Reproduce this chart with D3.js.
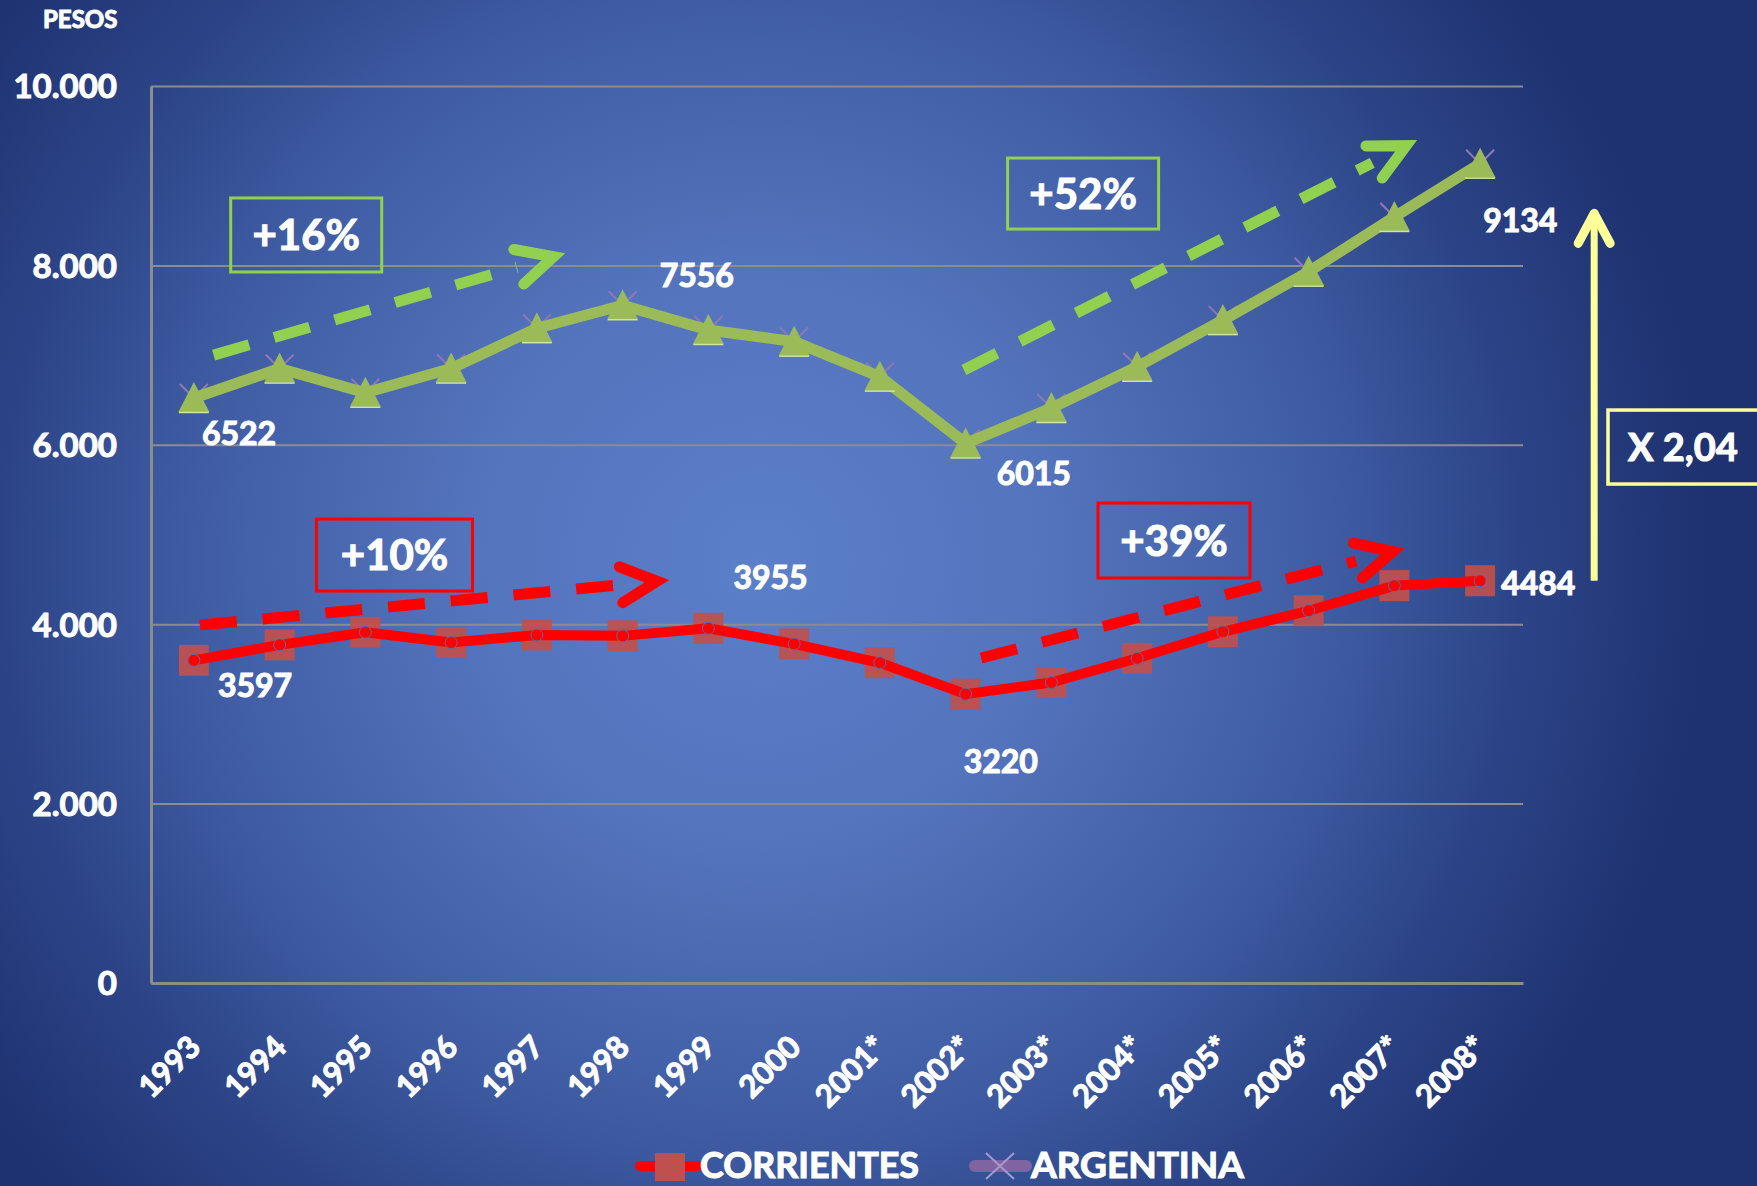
<!DOCTYPE html>
<html>
<head>
<meta charset="utf-8">
<script src="https://cdn.jsdelivr.net/npm/d3@7"></script>
<style>
  html, body { margin: 0; padding: 0; background: #1e3170; }
  svg { display: block; font-family: 'Lato', 'Open Sans', sans-serif; font-weight: bold; }
  svg text { stroke: #fff; stroke-width: 1.1px; paint-order: stroke; }
</style>
</head>
<body>
<div id="chart"></div>
<script>
var years = ['1993','1994','1995','1996','1997','1998','1999','2000','2001*','2002*','2003*','2004*','2005*','2006*','2007*','2008*']
var argentina = [6522, 6850, 6580, 6850, 7300, 7556, 7280, 7150, 6760, 6015, 6410, 6870, 7390, 7930, 8540, 9134]
var corrientes = [3597, 3770, 3910, 3795, 3880, 3870, 3955, 3780, 3570, 3220, 3350, 3620, 3915, 4150, 4430, 4484]
var yTicks = [0, 2000, 4000, 6000, 8000, 10000]
var seriesNames = ['CORRIENTES', 'ARGENTINA']

// which points get a value label (index into years)
var argLabelIdx = [0, 5, 9, 15]
var corLabelIdx = [0, 6, 9, 15]

// growth annotations: fractional year index + value
var trendFrom = [[0.23, 7000], [8.98, 6834], [0.07, 3991], [9.18, 3623]]
var trendTo = [[4.26, 8115], [14.20, 9365], [5.47, 4485], [14.05, 4827]]
var trendText = ['+16%', '+52%', '+10%', '+39%']
var trendBoxAt = [[1.31, 8339], [10.37, 8801], [2.34, 4771], [11.43, 4933]]
var ratioText = 'X 2,04'
var ratioArrow = [16.33, 4484, 8580]

var W = 1757, H = 1186
var margin = {top: 86, right: 234, bottom: 203, left: 151}

var green = '#9bbb59', brightGreen = '#92d050', red = '#ff0000', yellow = '#ffff99'

var svg = d3.select('#chart').append('svg')
  .attr('width', W)
  .attr('height', H)

var defs = svg.append('defs')
var grad = defs.append('radialGradient')
  .attr('id', 'bg')
  .attr('gradientUnits', 'userSpaceOnUse')
  .attr('cx', 760).attr('cy', 560).attr('r', 950)
var stops = [[0, '#5b7fc9'], [0.3, '#5474bd'], [0.6, '#3f5ca3'], [0.8, '#2c4487'], [1, '#1e3170']]
stops.forEach(function(s){ grad.append('stop').attr('offset', s[0]).attr('stop-color', s[1]) })

svg.append('rect').attr('width', W).attr('height', H).attr('fill', 'url(#bg)')

var x = d3.scalePoint()
  .domain(years)
  .range([margin.left, W - margin.right])
  .padding(0.5)

var y = d3.scaleLinear()
  .domain([0, 10000])
  .range([H - margin.bottom, margin.top])

function xAt(i){ return x(years[0]) + i * x.step() }

var locale = d3.formatLocale({decimal: ',', thousands: '.', grouping: [3], currency: ['$', '']})
var fmt = locale.format(',')

// y axis + gridlines
var yAxis = svg.append('g')
  .attr('transform', 'translate(' + margin.left + ',0)')
  .call(d3.axisLeft(y).tickValues(yTicks).tickFormat(fmt)
    .tickSize(-(W - margin.left - margin.right)).tickSizeOuter(0).tickPadding(34))
yAxis.select('.domain').attr('stroke', '#8c8c8c').attr('stroke-width', 3)
yAxis.selectAll('.tick line').attr('stroke', '#8c8c8c').attr('stroke-width', 2)
yAxis.selectAll('.tick text')
  .attr('fill', '#fff')
  .attr('font-size', 33)
  .attr('font-weight', 'bold')
  .attr('font-family', 'Lato')
  .attr('dy', '0.36em')

// x axis
var xAxis = svg.append('g')
  .attr('transform', 'translate(0,' + y(0) + ')')
  .call(d3.axisBottom(x).tickSize(0).tickSizeOuter(0))
xAxis.select('.domain').attr('stroke', '#8c8c8c').attr('stroke-width', 3)
xAxis.selectAll('.tick text')
  .attr('fill', '#fff')
  .attr('font-size', 31)
  .attr('font-weight', 'bold')
  .attr('font-family', 'Lato')
  .attr('text-anchor', 'end')
  .attr('dy', 0)
  .attr('y', 0)
  .attr('transform', 'translate(8,66) rotate(-45)')

svg.append('text')
  .attr('x', 43).attr('y', 28)
  .attr('fill', '#fff').attr('font-size', 24)
  .text('PESOS')

// Corrientes series
var seriesLine = d3.line().x(function(d, i){ return x(years[i]) }).y(function(d){ return y(d) })

svg.append('g').selectAll('rect')
  .data(corrientes).enter().append('rect')
  .attr('x', function(d, i){ return x(years[i]) - 15 })
  .attr('y', function(d){ return y(d) - 15.5 })
  .attr('width', 30).attr('height', 31)
  .attr('fill', '#c0504d')
  .attr('opacity', 0.92)

svg.append('path')
  .datum(corrientes)
  .attr('d', seriesLine)
  .attr('fill', 'none')
  .attr('stroke', red)
  .attr('stroke-width', 10)
  .attr('stroke-linejoin', 'round')

svg.append('g').selectAll('circle')
  .data(corrientes).enter().append('circle')
  .attr('cx', function(d, i){ return x(years[i]) })
  .attr('cy', function(d){ return y(d) })
  .attr('r', 6)
  .attr('fill', red)
  .attr('stroke', '#5070b8')
  .attr('stroke-width', 1)

// Argentina series
svg.append('g').selectAll('path')
  .data(argentina).enter().append('path')
  .attr('d', function(d, i){
    var cx = x(years[i]), cy = y(d), s = 14
    return 'M' + (cx - s) + ',' + (cy - s) + 'L' + (cx + s) + ',' + (cy + s) +
      'M' + (cx + s) + ',' + (cy - s) + 'L' + (cx - s) + ',' + (cy + s)
  })
  .attr('stroke', '#8e78b8')
  .attr('stroke-width', 2)

svg.append('path')
  .datum(argentina)
  .attr('d', seriesLine)
  .attr('fill', 'none')
  .attr('stroke', green)
  .attr('stroke-width', 11)
  .attr('stroke-linejoin', 'round')

var tri = svg.append('g').selectAll('g')
  .data(argentina).enter().append('g')
  .attr('transform', function(d, i){ return 'translate(' + x(years[i]) + ',' + y(d) + ')' })
tri.append('path')
  .attr('d', 'M0,-16L15.5,14L-15.5,14Z')
  .attr('fill', green)
tri.append('line')
  .attr('x1', -15).attr('x2', 15).attr('y1', 14.5).attr('y2', 14.5)
  .attr('stroke', '#d4e2a6').attr('stroke-width', 1.5)

// value labels
function valueLabels(values, idx, offsets){
  svg.append('g').selectAll('text')
    .data(idx).enter().append('text')
    .attr('x', function(i, k){ return x(years[i]) + offsets[k][0] })
    .attr('y', function(i, k){ return y(values[i]) + offsets[k][1] })
    .attr('fill', '#fff')
    .attr('font-size', 32)
    .text(function(i){ return values[i] })
}
valueLabels(argentina, argLabelIdx, [[8, 47], [37, -18], [31, 42], [3, 68]])
valueLabels(corrientes, corLabelIdx, [[24, 37], [25, -39], [-2, 79], [21, 14]])

// dashed trend arrows
var trendColor = [brightGreen, brightGreen, red, red]
function chevron(tx, ty, ux, uy, a, b){
  var nx = -uy, ny = ux
  return 'M' + (tx - a * ux + b * nx) + ',' + (ty - a * uy + b * ny) +
    'L' + tx + ',' + ty +
    'L' + (tx - a * ux - b * nx) + ',' + (ty - a * uy - b * ny)
}
trendFrom.forEach(function(f, k){
  var x0 = xAt(f[0]), y0 = y(f[1])
  var x1 = xAt(trendTo[k][0]), y1 = y(trendTo[k][1])
  var len = Math.hypot(x1 - x0, y1 - y0)
  var ux = (x1 - x0) / len, uy = (y1 - y0) / len
  svg.append('line')
    .attr('x1', x0).attr('y1', y0)
    .attr('x2', x1 - 44 * ux).attr('y2', y1 - 44 * uy)
    .attr('stroke', trendColor[k])
    .attr('stroke-width', 11)
    .attr('stroke-dasharray', '37,26')
  // pull the tip back a little so the mitred corner lands on the target
  svg.append('path')
    .attr('d', chevron(x1 - 6 * ux, y1 - 6 * uy, ux, uy, 36, 18))
    .attr('fill', 'none')
    .attr('stroke', trendColor[k])
    .attr('stroke-width', 11)
    .attr('stroke-linecap', 'round')
    .attr('stroke-linejoin', 'miter')
})

// percentage boxes
var boxSize = [[151, 74], [151, 71], [156, 72], [152, 75]]
trendBoxAt.forEach(function(b, k){
  var cx = xAt(b[0]), cy = y(b[1])
  svg.append('rect')
    .attr('x', cx - boxSize[k][0] / 2).attr('y', cy - boxSize[k][1] / 2)
    .attr('width', boxSize[k][0]).attr('height', boxSize[k][1])
    .attr('fill', 'none')
    .attr('stroke', trendColor[k])
    .attr('stroke-width', 3)
  svg.append('text')
    .attr('x', cx).attr('y', cy)
    .attr('dy', '0.36em')
    .attr('text-anchor', 'middle')
    .attr('fill', '#fff')
    .attr('font-size', 42)
    .text(trendText[k])
})

// ratio arrow and box
var ax = xAt(ratioArrow[0]), ayBottom = y(ratioArrow[1]), ayTop = y(ratioArrow[2])
svg.append('line')
  .attr('x1', ax).attr('x2', ax)
  .attr('y1', ayBottom).attr('y2', ayTop + 4)
  .attr('stroke', yellow).attr('stroke-width', 7)
svg.append('path')
  .attr('d', chevron(ax, ayTop, 0, -1, 30, 16))
  .attr('fill', 'none')
  .attr('stroke', yellow)
  .attr('stroke-width', 9)
  .attr('stroke-linecap', 'round')
  .attr('stroke-linejoin', 'round')

var ratioY = y(5975)
svg.append('rect')
  .attr('x', 1608).attr('y', ratioY - 37)
  .attr('width', 160).attr('height', 74)
  .attr('fill', 'none')
  .attr('stroke', yellow)
  .attr('stroke-width', 3.5)
svg.append('text')
  .attr('x', 1628).attr('y', ratioY)
  .attr('dy', '0.36em')
  .attr('fill', '#fff')
  .attr('font-size', 38)
  .text(ratioText)

// legend
var legend = svg.append('g').attr('transform', 'translate(0,1166)')
legend.append('line')
  .attr('x1', 640).attr('x2', 698).attr('y1', 0).attr('y2', 0)
  .attr('stroke', red).attr('stroke-width', 10).attr('stroke-linecap', 'round')
legend.append('rect')
  .attr('x', 655).attr('y', -13).attr('width', 30).attr('height', 28)
  .attr('fill', '#c0504d')
legend.append('text')
  .attr('x', 700).attr('y', 12)
  .attr('fill', '#fff').attr('font-size', 36)
  .attr('textLength', 219).attr('lengthAdjust', 'spacingAndGlyphs')
  .text(seriesNames[0])

legend.append('line')
  .attr('x1', 975).attr('x2', 1026).attr('y1', 0).attr('y2', 0)
  .attr('stroke', '#8064a2').attr('stroke-width', 12).attr('stroke-linecap', 'round')
legend.append('path')
  .attr('d', 'M986,-13L1014,13M1014,-13L986,13')
  .attr('stroke', '#a898cc').attr('stroke-width', 2)
legend.append('text')
  .attr('x', 1031).attr('y', 12)
  .attr('fill', '#fff').attr('font-size', 36)
  .attr('textLength', 213).attr('lengthAdjust', 'spacingAndGlyphs')
  .text(seriesNames[1])
</script>
</body>
</html>
